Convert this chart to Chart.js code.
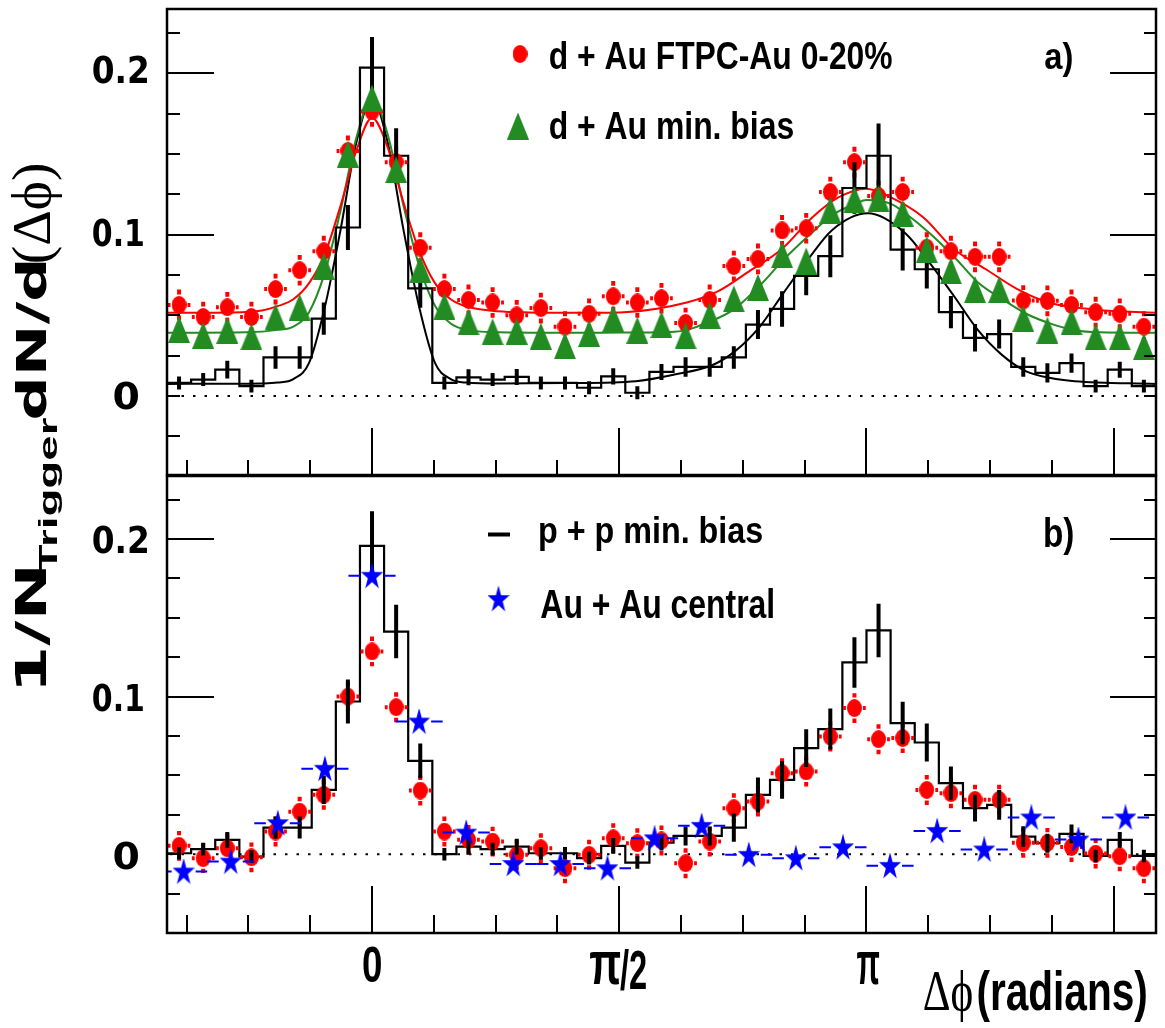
<!DOCTYPE html>
<html>
<head>
<meta charset="utf-8">
<script src="https://cdn.jsdelivr.net/npm/chart.js@4.4.1/dist/chart.umd.min.js"></script>
<style>
  body { margin: 0; background: #fff; }
  #wrap { position: relative; width: 1165px; height: 1028px; }
  #wrap canvas { position: absolute; left: 0; top: 0; }
</style>
</head>
<body>
<div id="wrap">
  <canvas id="panel-a" width="1165" height="1028"></canvas>
  <canvas id="panel-b" width="1165" height="1028"></canvas>
</div>
<script>
const PI = Math.PI;

// x range of both panels (radians) and histogram bin centres (41 bins)
const xLo = -1.3026, xHi = 4.981;
const binCenters = [-1.226, -1.0727, -0.9195, -0.7662, -0.613, -0.4597, -0.3065, -0.1532, 0,
  0.1532, 0.3065, 0.4597, 0.613, 0.7662, 0.9195, 1.0727, 1.226, 1.3792, 1.5325, 1.6857,
  1.839, 1.9922, 2.1455, 2.2987, 2.452, 2.6052, 2.7585, 2.9117, 3.065, 3.2182, 3.3715,
  3.5247, 3.678, 3.8312, 3.9845, 4.1377, 4.291, 4.4442, 4.5975, 4.7507, 4.904];
const binHalf = 0.072;

// Au+Au bins (21 bins)
const starCenters = [-1.1968, -0.8976, -0.5984, -0.2992, 0, 0.2992, 0.5984, 0.8976, 1.1968,
  1.496, 1.7952, 2.0944, 2.3936, 2.6928, 2.992, 3.2912, 3.5904, 3.8896, 4.1888, 4.488, 4.7872];
const starHalf = 0.1496;

// ---- panel a) ----
const dAuCentral = [0.0565, 0.049, 0.055, 0.049, 0.0663, 0.078, 0.0898, 0.152, 0.1765,
  0.145, 0.092, 0.0663, 0.0596, 0.058, 0.050, 0.0545, 0.043,
  0.051, 0.0618, 0.058, 0.0606, 0.0453, 0.0596, 0.0806, 0.085, 0.1027, 0.104, 0.1265,
  0.145, 0.124, 0.1265, 0.092, 0.0898, 0.0863, 0.0863, 0.0592, 0.059, 0.0565, 0.052, 0.051, 0.043];
const dAuMinBias = [0.0412, 0.0377, 0.0408, 0.0367, 0.049, 0.055, 0.0806, 0.150, 0.1847,
  0.1404, 0.0786, 0.0557, 0.0459, 0.0398, 0.0402, 0.0371, 0.0312,
  0.0388, 0.048, 0.0408, 0.0443, 0.0373, 0.050, 0.0602, 0.0673, 0.0877, 0.0837, 0.1153,
  0.122, 0.1224, 0.1134, 0.0908, 0.0776, 0.066, 0.066, 0.048, 0.0408, 0.0459, 0.0367, 0.0367, 0.0306];
const ppTopA = [0.0081, 0.0102, 0.0163, 0.0061, 0.0239, 0.0239, 0.048, 0.1045, 0.2037,
  0.149, 0.0667, 0.0081, 0.0116, 0.0102, 0.0118, 0.0081, 0.0081,
  0.0051, 0.0122, 0.002, 0.0149, 0.018, 0.018, 0.0239, 0.0443, 0.054, 0.0745, 0.0867,
  0.129, 0.149, 0.0908, 0.0786, 0.052, 0.0361, 0.0384, 0.018, 0.0143, 0.0204, 0.0061, 0.0163, 0.0061];
const ppErrA = [0.004, 0.004, 0.0055, 0.004, 0.007, 0.007, 0.010, 0.014, 0.019,
  0.017, 0.012, 0.004, 0.005, 0.004, 0.005, 0.004, 0.004,
  0.004, 0.005, 0.004, 0.005, 0.006, 0.006, 0.007, 0.009, 0.011, 0.012, 0.013,
  0.016, 0.020, 0.013, 0.012, 0.010, 0.0085, 0.009, 0.006, 0.006, 0.006, 0.004, 0.005, 0.004];
const dAuErr = 0.0095;

// fit curves
const fitRedX = [-1.30, -0.9, -0.7, -0.6, -0.5, -0.4, -0.3, -0.2, -0.1, 0, 0.1, 0.2, 0.3, 0.4, 0.5,
  0.6, 0.8, 1.0, 1.3, 1.6, 2.0, 2.2, 2.4, 2.6, 2.8, 2.96, 3.14, 3.3, 3.5, 3.7, 3.9, 4.1, 4.3, 4.6, 4.98];
const fitRedY = [0.0516, 0.0518, 0.053, 0.0557, 0.060, 0.070, 0.088, 0.118, 0.152, 0.1725, 0.154,
  0.120, 0.090, 0.070, 0.060, 0.0555, 0.0525, 0.0518, 0.0516, 0.052, 0.058, 0.065, 0.0776,
  0.0908, 0.111, 0.123, 0.1286, 0.123, 0.111, 0.0908, 0.0786, 0.0663, 0.058, 0.0535, 0.0516];
const fitGreenX = [-1.30, -0.8, -0.6, -0.5, -0.4, -0.3, -0.2, -0.1, 0, 0.1, 0.2, 0.3, 0.4, 0.5, 0.6,
  0.8, 1.2, 1.6, 1.922, 2.168, 2.303, 2.463, 2.617, 2.77, 2.924, 3.076, 3.14, 3.3, 3.388, 3.543,
  3.695, 3.85, 4.002, 4.156, 4.311, 4.464, 4.623, 4.98];
const fitGreenY = [0.0392, 0.0395, 0.041, 0.043, 0.052, 0.0765, 0.115, 0.160, 0.185, 0.162, 0.118,
  0.0806, 0.056, 0.045, 0.041, 0.0395, 0.0392, 0.0393, 0.0398, 0.047, 0.054, 0.0684, 0.0847,
  0.099, 0.1122, 0.1194, 0.1215, 0.119, 0.1133, 0.101, 0.0867, 0.0704, 0.0602, 0.051, 0.0449,
  0.0408, 0.0395, 0.0392];
const fitBlackX = [-1.30, -0.7, -0.6, -0.5, -0.4, -0.3, -0.2, -0.1, 0, 0.1, 0.2, 0.3, 0.4, 0.5, 0.6,
  0.8, 1.223, 1.677, 1.922, 2.168, 2.303, 2.463, 2.617, 2.77, 2.924, 3.15, 3.388, 3.543, 3.695,
  3.85, 4.002, 4.156, 4.311, 4.464, 4.98];
const fitBlackY = [0.0075, 0.0078, 0.0083, 0.0105, 0.0205, 0.055, 0.103, 0.157, 0.184, 0.157, 0.103,
  0.055, 0.0205, 0.0105, 0.0083, 0.0077, 0.008, 0.0092, 0.0133, 0.0194, 0.0275, 0.0429, 0.0643,
  0.0847, 0.103, 0.1133, 0.101, 0.0826, 0.0623, 0.0408, 0.0255, 0.0153, 0.0112, 0.0092, 0.0075];

// ---- panel b) ----
const ppTopB = [0.0006, 0.0032, 0.0091, -0.0015, 0.0169, 0.0169, 0.0408, 0.0969, 0.1957,
  0.1413, 0.0592, 0.0, 0.0048, 0.0032, 0.0048, 0.0006, 0.0006,
  -0.0025, 0.0053, -0.0053, 0.0074, 0.0116, 0.0116, 0.0169, 0.0377, 0.0472, 0.0673, 0.0794,
  0.1217, 0.142, 0.0832, 0.0709, 0.0451, 0.0292, 0.0313, 0.0112, 0.007, 0.0129, -0.0011, 0.0091, -0.0011];
const ppErrB = [0.004, 0.004, 0.005, 0.004, 0.007, 0.007, 0.009, 0.014, 0.022,
  0.017, 0.011, 0.004, 0.005, 0.004, 0.005, 0.004, 0.004,
  0.004, 0.005, 0.004, 0.005, 0.006, 0.006, 0.009, 0.011, 0.012, 0.012, 0.013,
  0.016, 0.017, 0.0135, 0.012, 0.0105, 0.0085, 0.0095, 0.0065, 0.006, 0.006, 0.004, 0.005, 0.004];
const dAuSub = [0.0053, -0.0025, 0.0038, -0.002, 0.0144, 0.027, 0.0377, 0.100, 0.1287,
  0.0933, 0.0404, 0.0144, 0.0091, 0.008, -0.0004, 0.0038, -0.0089,
  -0.0004, 0.0101, 0.007, 0.0087, -0.0057, 0.008, 0.0292, 0.0334, 0.0514, 0.0525, 0.0747,
  0.0927, 0.073, 0.0737, 0.0408, 0.0387, 0.0345, 0.0345, 0.0072, 0.0072, 0.0046, 0.0004, -0.0013, -0.0089];
const auAuCentral = [-0.011, -0.0047, 0.0197, 0.0542, 0.1767, 0.0842, 0.0137, -0.0062, -0.0062,
  -0.0089, 0.0101, 0.018, -0.0004, -0.0025, 0.0044, -0.0074, 0.0148, 0.003, 0.0233, 0.0093, 0.0233];

const RED = '#ff0000', GREEN = '#228b22', BLUE = '#0000ff';
const SANS = '"Liberation Sans", Arial, sans-serif';
const HEAVY = '"DejaVu Sans", "Liberation Sans", sans-serif';
const THIN = '"Liberation Serif", "DejaVu Serif", serif';

// ---- marker images ----
function ellipseMarker(w, h, color) {
  const c = document.createElement('canvas');
  c.width = w; c.height = h;
  const g = c.getContext('2d');
  g.fillStyle = color;
  g.beginPath();
  g.ellipse(w / 2, h / 2, w / 2, h / 2, 0, 0, 2 * PI);
  g.fill();
  return c;
}
function triangleMarker(w, h, color) {
  const c = document.createElement('canvas');
  c.width = w; c.height = h;
  const g = c.getContext('2d');
  g.fillStyle = color;
  g.beginPath();
  g.moveTo(w / 2, 0); g.lineTo(w, h); g.lineTo(0, h);
  g.closePath(); g.fill();
  return c;
}
function starMarker(w, h, color) {
  const c = document.createElement('canvas');
  c.width = w; c.height = h;
  const g = c.getContext('2d');
  const R = 1, r = 0.382;
  g.translate(w / 2, h * 0.53);
  g.scale(w / 1.902, h / 1.809);
  g.fillStyle = color;
  g.beginPath();
  for (let i = 0; i < 10; i++) {
    const a = -PI / 2 + i * PI / 5;
    const rr = i % 2 ? r : R;
    g.lineTo(Math.cos(a) * rr, Math.sin(a) * rr);
  }
  g.closePath(); g.fill();
  return c;
}
const redDot = ellipseMarker(15, 18, RED);
const greenTri = triangleMarker(22, 27, GREEN);
const blueStar = starMarker(22, 26, BLUE);

// ---- helpers ----
function pts(xs, ys) { return xs.map((x, i) => ({ x: x, y: ys[i] })); }
function histPts(xs, ys) {
  return [{ x: xLo, y: ys[0] }].concat(pts(xs, ys), [{ x: xHi, y: ys[ys.length - 1] }]);
}

// draw text so its ink fills the box (x, y, w, h)
function fitText(ctx, str, x, y, w, h, family, weight) {
  ctx.save();
  ctx.font = (weight || 'bold') + ' 100px ' + (family || SANS);
  ctx.textAlign = 'left';
  ctx.textBaseline = 'alphabetic';
  const m = ctx.measureText(str);
  const iw = m.actualBoundingBoxLeft + m.actualBoundingBoxRight;
  const ih = m.actualBoundingBoxAscent + m.actualBoundingBoxDescent;
  ctx.translate(x, y);
  ctx.scale(w / iw, h / ih);
  ctx.fillStyle = '#000';
  ctx.fillText(str, m.actualBoundingBoxLeft, m.actualBoundingBoxAscent);
  ctx.restore();
}
function fitTextUp(ctx, str, x0, y0, x1, y1, family, weight) {
  ctx.save();
  ctx.translate(x0, y1);
  ctx.rotate(-PI / 2);
  fitText(ctx, str, 0, 0, y1 - y0, x1 - x0, family, weight);
  ctx.restore();
}

// error bars (drawn under the markers of the same dataset)
const errorBarPlugin = {
  id: 'errorBars',
  beforeDatasetDraw(chart, args) {
    const ds = chart.data.datasets[args.index];
    const eb = ds.errorBars;
    if (!eb) return;
    const ctx = chart.ctx, xs = chart.scales.x, ys = chart.scales.y, area = chart.chartArea;
    ctx.save();
    ctx.beginPath();
    ctx.rect(area.left, area.top, area.right - area.left, area.bottom - area.top);
    ctx.clip();
    ctx.strokeStyle = eb.color;
    ctx.lineWidth = eb.width;
    ctx.lineCap = 'butt';
    args.meta.data.forEach((pt, i) => {
      const raw = ds.data[i];
      const px = pt.x, py = pt.y;
      ctx.beginPath();
      if (eb.dy !== undefined) {
        const e = Array.isArray(eb.dy) ? eb.dy[i] : eb.dy;
        const top = ys.getPixelForValue(raw.y + e), bot = ys.getPixelForValue(raw.y - e);
        const gy = eb.gapY || 0;
        if (py - gy > top) { ctx.moveTo(px, top); ctx.lineTo(px, py - gy); }
        if (py + gy < bot) { ctx.moveTo(px, py + gy); ctx.lineTo(px, bot); }
      }
      if (eb.dx !== undefined) {
        const l = xs.getPixelForValue(raw.x - eb.dx), r = xs.getPixelForValue(raw.x + eb.dx);
        const gx = eb.gapX || 0;
        if (px - gx > l) { ctx.moveTo(l, py); ctx.lineTo(px - gx, py); }
        if (px + gx < r) { ctx.moveTo(px + gx, py); ctx.lineTo(r, py); }
      }
      ctx.stroke();
    });
    ctx.restore();
  }
};

// frame, inward ticks, dotted zero line
const frameTicks = [];
for (let k = -3; k <= 12; k++) frameTicks.push(k);
const framePlugin = {
  id: 'rootFrame',
  beforeDatasetsDraw(chart) {
    const ctx = chart.ctx, ys = chart.scales.y, a = chart.chartArea;
    ctx.save();
    ctx.strokeStyle = '#000';
    ctx.lineWidth = 2;
    ctx.setLineDash([2.5, 9]);
    const y0 = ys.getPixelForValue(0);
    ctx.beginPath(); ctx.moveTo(a.left + 3, y0); ctx.lineTo(a.right - 3, y0); ctx.stroke();
    ctx.restore();
  },
  afterDraw(chart, args, opts) {
    const ctx = chart.ctx, xs = chart.scales.x, ys = chart.scales.y, a = chart.chartArea;
    ctx.save();
    ctx.strokeStyle = '#000';
    ctx.lineWidth = 2;
    ctx.beginPath();
    // y ticks, both sides
    for (let v = -0.025; v < 0.235; v += 0.025) {
      const vv = Math.round(v * 1000) / 1000;
      const major = Math.abs(vv - 0.1) < 1e-6 || Math.abs(vv - 0.2) < 1e-6;
      const py = Math.round(ys.getPixelForValue(vv));
      ctx.moveTo(a.left, py); ctx.lineTo(a.left + (major ? 47 : 13), py);
      ctx.moveTo(a.right, py); ctx.lineTo(a.right - (major ? 46 : 12), py);
    }
    // x ticks on the bottom edge
    frameTicks.forEach(k => {
      const px = Math.round(xs.getPixelForValue(k * PI / 8));
      const len = (k % 4 === 0) ? 47 : opts.minorLen;
      ctx.moveTo(px, a.bottom); ctx.lineTo(px, a.bottom - len);
    });
    ctx.stroke();
    ctx.lineWidth = 2.5;
    ctx.strokeRect(a.left, a.top, a.right - a.left, a.bottom - a.top);
    ctx.restore();
    if (opts.texts) opts.texts(ctx);
  }
};

function baseOptions(padTop, padBottom, yMin, yMax, minorLen, texts) {
  return {
    responsive: false,
    animation: false,
    devicePixelRatio: 1,
    events: [],
    layout: { padding: { left: 167, right: 5, top: padTop, bottom: padBottom } },
    scales: {
      x: { type: 'linear', min: xLo, max: xHi, display: false },
      y: { type: 'linear', min: yMin, max: yMax, display: false }
    },
    plugins: {
      legend: { display: false },
      tooltip: { enabled: false },
      rootFrame: { minorLen: minorLen, texts: texts }
    }
  };
}

function curve(xs, ys, color, order) {
  return { data: pts(xs, ys), borderColor: color, borderWidth: 2, pointRadius: 0,
    cubicInterpolationMode: 'monotone', fill: false, order: order };
}
function hist(ys, order) {
  return { data: histPts(binCenters, ys), borderColor: '#000', borderWidth: 2.2, pointRadius: 0,
    stepped: 'middle', fill: false, order: order };
}
function errOnly(ys, errs, order) {
  return { data: pts(binCenters, ys), showLine: false, pointRadius: 0, order: order,
    errorBars: { dy: errs, color: '#000', width: 4 } };
}
function markers(xs, ys, style, order, eb) {
  return { data: pts(xs, ys), showLine: false, pointStyle: style, pointRadius: 8,
    order: order, errorBars: eb };
}

// ---- panel a) ----
new Chart(document.getElementById('panel-a'), {
  type: 'line',
  data: {
    datasets: [
      curve(fitBlackX, fitBlackY, '#000', 9),
      curve(fitGreenX, fitGreenY, GREEN, 8),
      curve(fitRedX, fitRedY, RED, 7),
      hist(ppTopA, 6),
      markers(binCenters, dAuCentral, redDot, 5,
        { dy: dAuErr, dx: binHalf, gapX: 8.5, gapY: 10.5, color: RED, width: 4 }),
      errOnly(ppTopA, ppErrA, 4.5),
      markers(binCenters, dAuMinBias, greenTri, 4)
    ]
  },
  options: baseOptions(3, 553, -0.049, 0.24, 15, ctx => {
    fitText(ctx, '0.2', 93, 55, 54, 28, HEAVY);
    fitText(ctx, '0.1', 93, 218, 50, 28, HEAVY);
    fitText(ctx, '0', 114, 381, 24, 28, HEAVY);
    ctx.drawImage(redDot, 520 - 7.5, 54 - 9);
    fitText(ctx, 'd + Au FTPC-Au 0-20%', 550, 40, 342, 29);
    ctx.drawImage(greenTri, 518 - 11, 126 - 13.5);
    fitText(ctx, 'd + Au min. bias', 550, 110, 243, 29);
    fitText(ctx, 'a)', 1045, 43, 27, 34);
  }),
  plugins: [errorBarPlugin, framePlugin]
});

// ---- panel b) ----
new Chart(document.getElementById('panel-b'), {
  type: 'line',
  data: {
    datasets: [
      hist(ppTopB, 6),
      markers(binCenters, dAuSub, redDot, 5,
        { dy: dAuErr, dx: binHalf, gapX: 8.5, gapY: 10.5, color: RED, width: 4 }),
      errOnly(ppTopB, ppErrB, 4.5),
      markers(starCenters, auAuCentral, blueStar, 4,
        { dx: starHalf, gapX: 12, color: BLUE, width: 2 })
    ]
  },
  options: baseOptions(476, 95, -0.05, 0.24, 18, ctx => {
    fitText(ctx, '0.2', 93, 525, 54, 28, HEAVY);
    fitText(ctx, '0.1', 93, 683, 50, 28, HEAVY);
    fitText(ctx, '0', 114, 841, 24, 28, HEAVY);
    // legend
    ctx.save();
    ctx.strokeStyle = '#000'; ctx.lineWidth = 4;
    ctx.beginPath(); ctx.moveTo(488, 534.5); ctx.lineTo(510, 534.5); ctx.stroke();
    ctx.restore();
    fitText(ctx, 'p + p min. bias', 540, 516, 222, 35);
    ctx.drawImage(blueStar, 498.5 - 11, 599 - 13);
    fitText(ctx, 'Au + Au central', 541, 588, 232, 30);
    fitText(ctx, 'b)', 1045, 517, 28, 38);
    // x axis labels
    fitText(ctx, '0', 363, 947, 18, 36);
    fitText(ctx, '\u03c0', 590, 952, 30, 33);
    fitText(ctx, '/2', 620, 948, 26, 42);
    fitText(ctx, '\u03c0', 857, 952, 22, 33);
    fitText(ctx, '\u0394\u03d5', 924, 970, 48, 52, THIN, 'normal');
    fitText(ctx, '(radians)', 978, 970, 168, 52);
    // y axis title
    fitTextUp(ctx, '1/N', 15, 569, 50, 686, HEAVY);
    fitTextUp(ctx, 'Trigger', 38, 418, 63, 572);
    fitTextUp(ctx, 'dN/d', 16, 262, 50, 418, HEAVY);
    fitTextUp(ctx, '(\u0394\u03d5)', 12, 165, 62, 262, THIN, 'normal');
  }),
  plugins: [errorBarPlugin, framePlugin]
});
</script>
</body>
</html>
